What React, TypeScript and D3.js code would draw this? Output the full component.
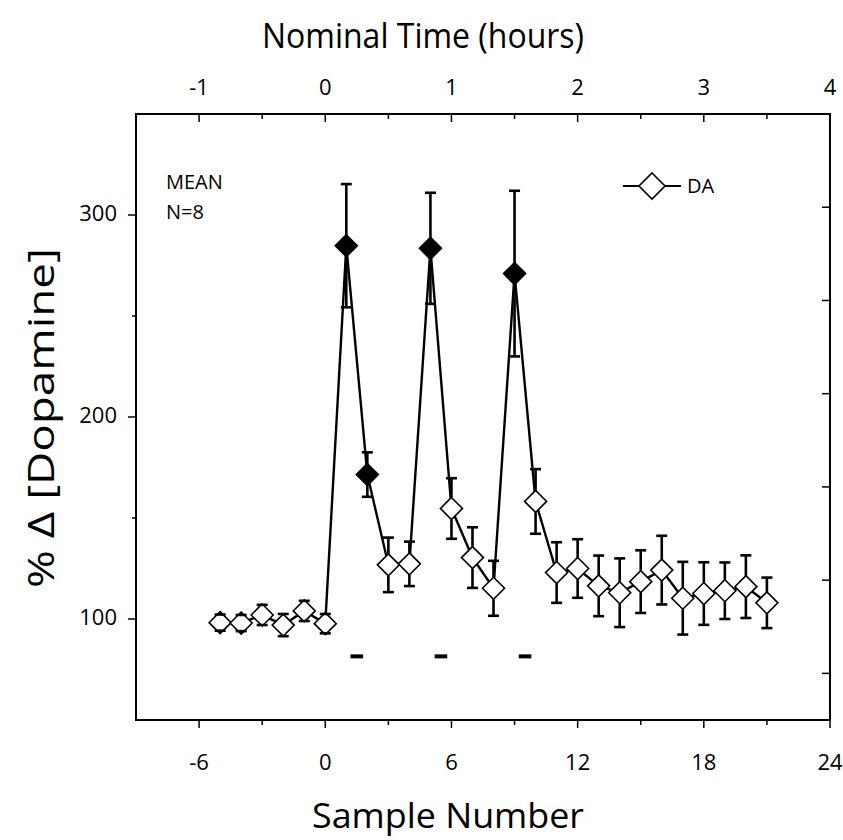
import React from "react";
import * as d3 from "d3";

const samples = [-5, -4, -3, -2, -1, 0, 1, 2, 3, 4, 5, 6, 7, 8, 9, 10, 11, 12, 13, 14, 15, 16, 17, 18, 19, 20, 21];
const daMean = [98.2, 98, 102, 97, 104, 97.7, 284.8, 171.5, 126.8, 127.3, 283.5, 154.7, 130.4, 115.2, 271, 158.2, 123, 125, 116.4, 113, 118.5, 124.2, 110.3, 112.6, 114, 116, 108];
const daSem = [4, 4, 5, 5.5, 5, 4.8, 30.5, 11, 13.5, 11, 27.5, 15, 15, 13.6, 41, 16, 15, 14.5, 15, 17, 15.5, 17, 18, 15.5, 14, 15.5, 12.5];
const filledSamples = [1, 2, 5, 9];
const stimStart = [1.2, 5.2, 9.2];
const stimEnd = [1.8, 5.8, 9.8];
const stimLevel = 81.5;

const bottomMajor = [-6, 0, 6, 12, 18, 24];
const bottomMinor = [-3, 3, 9, 15, 21];
const topMajor = [-1, 0, 1, 2, 3, 4];
const topMinor = [-0.5, 0.5, 1.5, 2.5, 3.5];
const leftMajor = [100, 200, 300];
const leftMinor = [150, 250];
const rightTicks = [50, 150, 250, 350, 450, 550];

const W = 843, H = 840;
const L = 136, R = 830, T = 114, B = 720;
const FONT = "'Open Sans', 'Noto Sans', sans-serif";

export default function App() {
  const x = d3.scaleLinear().domain([-9, 24]).range([L, R]);
  const xTop = d3.scaleLinear().domain([-1.5, 4]).range([L, R]);
  const y = d3.scaleLinear().domain([50, 350]).range([B, T]);
  const yRight = d3.scaleLinear().domain([0, 650]).range([B, T]);

  const pts = samples.map((s, i) => ({ s, v: daMean[i], e: daSem[i], filled: filledSamples.includes(s) }));
  const line = d3.line<any>().x(d => x(d.s)).y(d => y(d.v));
  const r = 11;
  const diamond = (cx: number, cy: number, rr: number) =>
    `M${cx},${cy - rr}L${cx + rr},${cy}L${cx},${cy + rr}L${cx - rr},${cy}Z`;
  const capW = 5.5;

  return (
    <svg width={W} height={H} style={{ position: "absolute", left: 0, top: 0, background: "#fff" }} fontFamily={FONT}>
      <rect x={0} y={0} width={W} height={H} fill="#fff" />
      {/* titles */}
      <text x={423} y={48} textAnchor="middle" fontSize={35} textLength={322} lengthAdjust="spacingAndGlyphs" fill="#000">Nominal Time (hours)</text>
      <text x={448} y={828} textAnchor="middle" fontSize={35} textLength={272} lengthAdjust="spacingAndGlyphs" fill="#000">Sample Number</text>
      <text transform={`translate(54,418) rotate(-90)`} textAnchor="middle" fontSize={37} textLength={340} lengthAdjust="spacingAndGlyphs" fill="#000">%  Δ  [Dopamine]</text>

      {/* frame */}
      <rect x={L} y={T} width={R - L} height={B - T} fill="none" stroke="#000" strokeWidth={2} />

      {/* bottom axis */}
      {bottomMajor.map(t => (
        <g key={"bM" + t}>
          <line x1={x(t)} x2={x(t)} y1={B} y2={B + 8} stroke="#000" strokeWidth={1.5} />
          <text x={x(t)} y={B + 50} textAnchor="middle" fontSize={22}>{t}</text>
        </g>
      ))}
      {bottomMinor.map(t => (
        <line key={"bm" + t} x1={x(t)} x2={x(t)} y1={B} y2={B + 5} stroke="#000" strokeWidth={1.5} />
      ))}
      {/* top axis */}
      {topMajor.map(t => (
        <g key={"tM" + t}>
          <line x1={xTop(t)} x2={xTop(t)} y1={T} y2={T + 8} stroke="#000" strokeWidth={1.5} />
          <text x={xTop(t)} y={T - 19} textAnchor="middle" fontSize={22}>{t}</text>
        </g>
      ))}
      {topMinor.map(t => (
        <line key={"tm" + t} x1={xTop(t)} x2={xTop(t)} y1={T} y2={T + 5} stroke="#000" strokeWidth={1.5} />
      ))}
      {/* left axis */}
      {leftMajor.map(t => (
        <g key={"lM" + t}>
          <line x1={L - 8} x2={L} y1={y(t)} y2={y(t)} stroke="#000" strokeWidth={1.5} />
          <text x={L - 19} y={y(t) + 6} textAnchor="end" fontSize={22}>{t}</text>
        </g>
      ))}
      {leftMinor.map(t => (
        <line key={"lm" + t} x1={L - 4} x2={L} y1={y(t)} y2={y(t)} stroke="#000" strokeWidth={1.5} />
      ))}
      {/* right axis */}
      {rightTicks.map(t => (
        <line key={"r" + t} x1={R - 8} x2={R} y1={yRight(t)} y2={yRight(t)} stroke="#000" strokeWidth={1.5} />
      ))}

      {/* stimulus bars */}
      {stimStart.map((s, i) => (
        <line key={"st" + i} x1={x(s)} x2={x(stimEnd[i])} y1={y(stimLevel)} y2={y(stimLevel)} stroke="#000" strokeWidth={4} />
      ))}

      {/* connecting line */}
      <path d={line(pts) || ""} fill="none" stroke="#000" strokeWidth={2.4} />

      {/* diamonds */}
      {pts.map(p => (
        <path key={"d" + p.s} d={diamond(x(p.s), y(p.v), r)} fill={p.filled ? "#000" : "#fff"} stroke="#000" strokeWidth={1.6} />
      ))}

      {/* error bars */}
      {pts.map(p => {
        const cx = x(p.s), cy = y(p.v);
        const d = y(p.v) - y(p.v + p.e);
        const parts: any[] = [];
        [-1, 1].forEach(sg => {
          const capY = cy + sg * d;
          if (d < r) {
            const hw = r - d;
            parts.push(<path key={"t" + sg} d={`M${cx},${cy + sg * r}L${cx + hw},${capY}L${cx - hw},${capY}Z`} fill="#000" />);
          } else if (!p.filled) {
            parts.push(<line key={"v" + sg} x1={cx} x2={cx} y1={cy + sg * r} y2={capY} stroke="#000" strokeWidth={2.6} />);
          } else {
            parts.push(<line key={"v" + sg} x1={cx} x2={cx} y1={cy} y2={capY} stroke="#000" strokeWidth={2.6} />);
          }
          parts.push(<line key={"c" + sg} x1={cx - capW} x2={cx + capW} y1={capY} y2={capY} stroke="#000" strokeWidth={2.6} />);
        });
        return <g key={"e" + p.s}>{parts}</g>;
      })}

      {/* annotations */}
      <text x={166} y={189} fontSize={20}>MEAN</text>
      <text x={166} y={219} fontSize={20}>N=8</text>

      {/* legend */}
      <line x1={623} x2={681} y1={186} y2={186} stroke="#000" strokeWidth={2} />
      <path d={diamond(652, 186, 13)} fill="#fff" stroke="#000" strokeWidth={1.6} />
      <text x={687} y={193} fontSize={20}>DA</text>
    </svg>
  );
}
